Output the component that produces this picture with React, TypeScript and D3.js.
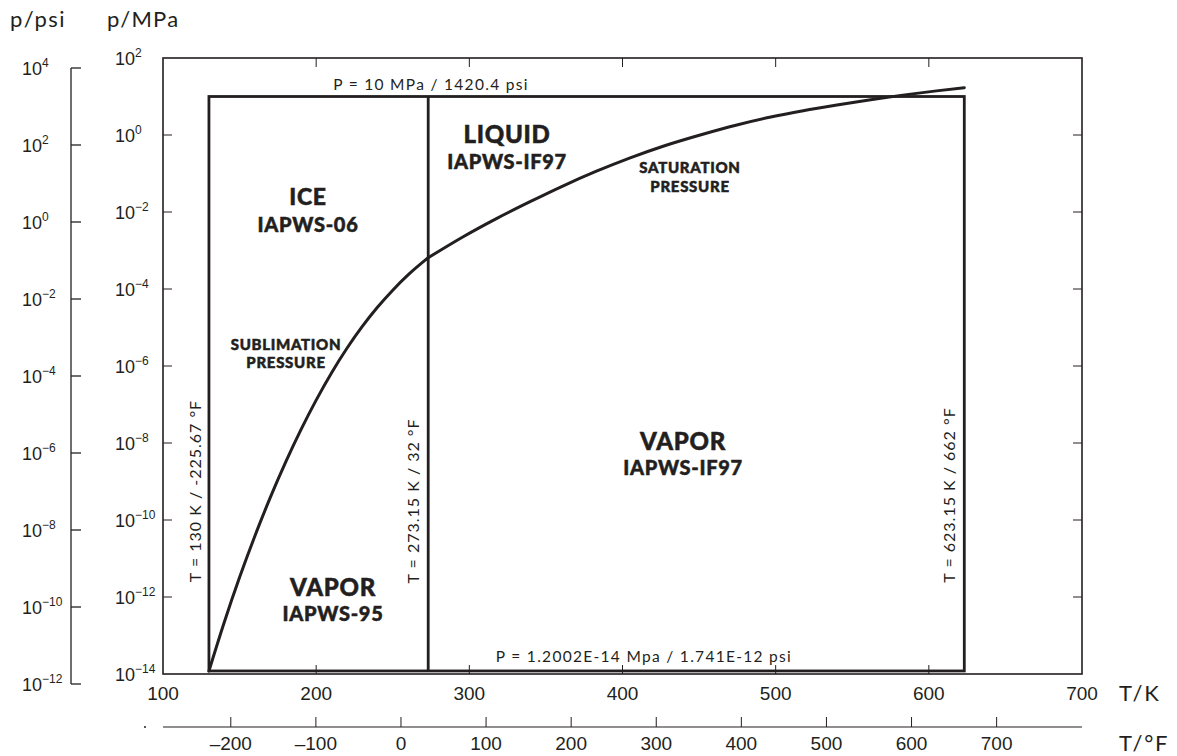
import * as d3 from 'd3'

// sublimation curve, T in K, p in MPa
const subT = [130, 140, 150, 160, 170, 180, 190, 200, 210, 220, 230, 240, 250, 260, 273.16]
const subP = [1.2e-14, 2.21e-13, 3.24e-12, 3.85e-11, 3.8e-10, 3.13e-9, 2.19e-8, 1.3e-7, 6.61e-7, 2.85e-6, 1.05e-5, 3.35e-5, 9.33e-5, 2.32e-4, 6.5e-4]
// saturation curve
const satT = [273.16, 296, 318, 340, 361, 383, 405, 427, 453, 474, 496, 518, 540, 562, 583, 605, 623.15]
const satP = [6.5e-4, 2.28e-3, 6.84e-3, 0.0188, 0.0472, 0.1146, 0.255, 0.519, 1.064, 1.795, 2.877, 4.276, 6.026, 8.26, 10.86, 14.0, 16.94]

// region bounds
const tMin = 130
const tMelt = 273.15
const tMax = 623.15
const pMin = 1.2002e-14
const pMax = 10

const kTicks = [100, 200, 300, 400, 500, 600, 700]
const fTicks = [-200, -100, 0, 100, 200, 300, 400, 500, 600, 700]
const mpaExp = [2, 0, -2, -4, -6, -8, -10, -12, -14]
const psiExp = [4, 2, 0, -2, -4, -6, -8, -10, -12]

const INK = '#231f20'
const ARIAL = '"Liberation Sans", Arial, sans-serif'
const GEO = 'Lato, "Open Sans", sans-serif'

const sup = (n: number) => (n < 0 ? '\u2212' + Math.abs(n) : String(n))

export default function App() {
  const W = 1177, H = 756
  const L = 163, R = 1082, T = 58, B = 674

  const x = d3.scaleLinear().domain([100, 700]).range([L, R])
  const y = d3.scaleLog().domain([1e-14, 1e2]).range([B, T])
  const yPsi = d3.scaleLog().domain([1e-12, 1e4]).range([684, 68])
  const xF = d3.scaleLinear().domain([100 * 1.8 - 459.67, 700 * 1.8 - 459.67]).range([L, R])

  const line = d3.line<[number, number]>().x(d => x(d[0])).y(d => y(d[1])).curve(d3.curveMonotoneX)
  const sub = line(subT.map((t, i) => [t, subP[i]]))
  const sat = line(satT.map((t, i) => [t, satP[i]]))

  const tk = 9
  const fAxisY = 727

  // heavy region names (stroke thickens Lato towards a "heavy" cut)
  const bold = (tx: number, ty: number, s: string, size: number) => (
    <text x={tx} y={ty} textAnchor="middle" fontFamily={GEO} fontWeight={900} fontSize={size}
      letterSpacing={0.7} fill={INK} stroke={INK} strokeWidth={0.5}>{s}</text>
  )
  const plain = (tx: number, ty: number, s: string) => (
    <text x={tx} y={ty} textAnchor="middle" fontFamily={GEO} fontSize={15.5} letterSpacing={1.3} fill={INK}>{s}</text>
  )
  const vlabel = (tx: number, ty: number, s: string) => (
    <text transform={`translate(${tx},${ty}) rotate(-90)`} textAnchor="middle" fontFamily={GEO} fontSize={16} letterSpacing={1} fill={INK}>{s}</text>
  )

  return (
    <svg width={W} height={H} style={{ position: 'absolute', left: 0, top: 0, background: '#fff' }}>
      {/* frame */}
      <rect x={L} y={T} width={R - L} height={B - T} fill="none" stroke={INK} strokeWidth={1.6} />
      {kTicks.slice(1, -1).map(k => (
        <g key={k}>
          <line x1={x(k)} x2={x(k)} y1={T} y2={T + tk} stroke={INK} strokeWidth={1} />
          <line x1={x(k)} x2={x(k)} y1={B} y2={B - tk} stroke={INK} strokeWidth={1} />
        </g>
      ))}
      {mpaExp.slice(1, -1).map(e => (
        <g key={e}>
          <line x1={L} x2={L + tk} y1={y(10 ** e)} y2={y(10 ** e)} stroke={INK} strokeWidth={1} />
          <line x1={R} x2={R - tk} y1={y(10 ** e)} y2={y(10 ** e)} stroke={INK} strokeWidth={1} />
        </g>
      ))}

      {/* K tick labels */}
      {kTicks.map(k => (
        <text key={k} x={x(k)} y={700} textAnchor="middle" fontFamily={ARIAL} fontSize={19} fill={INK}>{k}</text>
      ))}

      {/* MPa labels */}
      {mpaExp.map(e => (
        <text key={e} x={115} y={y(10 ** e) + 7} fontFamily={ARIAL} fontSize={18} fill={INK}>
          10<tspan dy={-8} fontSize={12}>{sup(e)}</tspan>
        </text>
      ))}

      {/* psi axis */}
      <line x1={71} x2={71} y1={yPsi(1e4)} y2={yPsi(1e-12)} stroke={INK} strokeWidth={1.3} />
      {psiExp.map(e => (
        <g key={e}>
          <line x1={71} x2={81} y1={yPsi(10 ** e)} y2={yPsi(10 ** e)} stroke={INK} strokeWidth={1.3} />
          <text x={22} y={yPsi(10 ** e) + 7} fontFamily={ARIAL} fontSize={18} fill={INK}>
            10<tspan dy={-8} fontSize={12}>{sup(e)}</tspan>
          </text>
        </g>
      ))}

      {/* °F axis */}
      <line x1={L} x2={R} y1={fAxisY} y2={fAxisY} stroke={INK} strokeWidth={1.2} />
      {fTicks.map(f => (
        <g key={f}>
          <line x1={xF(f)} x2={xF(f)} y1={fAxisY} y2={fAxisY - 10} stroke={INK} strokeWidth={1} />
          <text x={xF(f)} y={750} textAnchor="middle" fontFamily={ARIAL} fontSize={19} fill={INK}>
            {f < 0 ? '\u2013' + Math.abs(f) : f}
          </text>
        </g>
      ))}
      <circle cx={145} cy={fAxisY} r={1} fill={INK} />

      {/* axis titles */}
      <text x={10} y={27} fontFamily={GEO} fontSize={22} letterSpacing={1.5} fill={INK}>p/psi</text>
      <text x={107} y={27} fontFamily={GEO} fontSize={22} letterSpacing={1.2} fill={INK}>p/MPa</text>
      <text x={1119} y={701} fontFamily={GEO} fontSize={22} letterSpacing={1.8} fill={INK}>T/K</text>
      <text x={1119} y={751} fontFamily={GEO} fontSize={22} letterSpacing={1.8} fill={INK}>T/°F</text>

      {/* region boundaries */}
      <rect x={x(tMin)} y={y(pMax)} width={x(tMax) - x(tMin)} height={y(pMin) - y(pMax)} fill="none" stroke={INK} strokeWidth={2.8} />
      <line x1={x(tMelt)} x2={x(tMelt)} y1={y(pMax)} y2={y(pMin)} stroke={INK} strokeWidth={2.8} />

      {/* phase curves */}
      <path d={sub ?? ''} fill="none" stroke={INK} strokeWidth={3} strokeLinecap="round" />
      <path d={sat ?? ''} fill="none" stroke={INK} strokeWidth={3} strokeLinecap="round" />

      {/* boundary labels */}
      {plain(431, 90, 'P = 10 MPa / 1420.4 psi')}
      {plain(644, 662, 'P = 1.2002E-14 Mpa / 1.741E-12 psi')}
      {vlabel(201, 491, 'T = 130 K / -225.67 °F')}
      {vlabel(418.5, 501, 'T = 273.15 K / 32 °F')}
      {vlabel(955, 495, 'T = 623.15 K / 662 °F')}

      {/* region labels */}
      {bold(507, 143, 'LIQUID', 24)}
      {bold(507, 169, 'IAPWS-IF97', 20)}
      {bold(308, 205, 'ICE', 23)}
      {bold(308, 232, 'IAPWS-06', 20)}
      {bold(690, 173, 'SATURATION', 15)}
      {bold(690, 192, 'PRESSURE', 15)}
      {bold(286, 349.5, 'SUBLIMATION', 15)}
      {bold(286, 368, 'PRESSURE', 15)}
      {bold(333, 596, 'VAPOR', 24)}
      {bold(333, 621, 'IAPWS-95', 20)}
      {bold(683, 450, 'VAPOR', 24)}
      {bold(683, 475, 'IAPWS-IF97', 20)}
    </svg>
  )
}
